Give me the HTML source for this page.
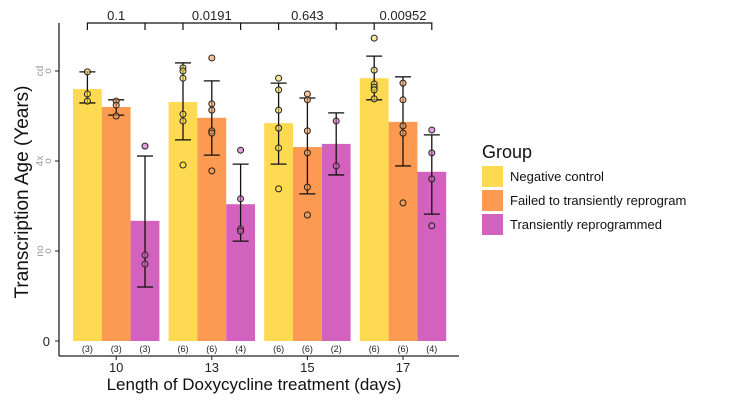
<!DOCTYPE html>
<html><head><meta charset="utf-8"><style>
body{margin:0;background:#fff;}
svg text{font-family:"Liberation Sans",Arial,sans-serif;}
</style></head><body>
<svg id="chart" width="750" height="400" viewBox="0 0 750 400">
<rect width="750" height="400" fill="#fff"/>
<g id="plot"></g>
<line x1="59" y1="23" x2="59" y2="356" stroke="#222" stroke-width="1.3"/>
<line x1="59" y1="356" x2="459" y2="356" stroke="#222" stroke-width="1.3"/>
<text x="0" y="0" transform="translate(28,192) rotate(-90)" text-anchor="middle" font-size="19" fill="#111">Transcription Age (Years)</text>
<text x="254" y="390" text-anchor="middle" font-size="17" fill="#111">Length of Doxycycline treatment (days)</text>
<g>
<text x="482" y="158" font-size="18" fill="#111">Group</text>
<rect x="482" y="166" width="21" height="21" fill="#FDDA51"/>
<text x="510" y="181" font-size="13" fill="#111">Negative control</text>
<rect x="482" y="190" width="21" height="21" fill="#FC9A52"/>
<text x="510" y="205" font-size="13" fill="#111">Failed to transiently reprogram</text>
<rect x="482" y="214" width="21" height="21" fill="#D262BD"/>
<text x="510" y="229" font-size="13" fill="#111">Transiently reprogrammed</text>
</g>
</svg>
<script>
const categories = ["10","13","15","17"];
const groups = ["Negative control","Failed to transiently reprogram","Transiently reprogrammed"];
const colors = ["#FDDA51","#FC9A52","#D262BD"];
const meanNeg = [56, 53.1, 48.4, 58.4];
const meanFail = [52, 49.6, 43.1, 48.7];
const meanTrans = [26.7, 30.4, 43.8, 37.6];
const errNegHi = [59.8, 61.8, 57.3, 63.3];
const errNegLo = [52.9, 44.7, 39.3, 53.6];
const errFailHi = [53.6, 57.8, 54.0, 58.7];
const errFailLo = [50.2, 41.3, 32.7, 38.9];
const errTransHi = [41.1, 39.3, 50.7, 45.8];
const errTransLo = [12.0, 22.2, 36.9, 28.2];
const ptsNeg = [[59.8,54.9,53.3],[60.7,60.0,58.4,50.4,48.9,39.1],[58.4,55.8,51.3,47.3,42.9,33.8],[67.3,60.2,57.1,56.4,55.8,53.8]];
const ptsFail = [[53.3,52.4,50.0],[62.9,52.7,51.3,46.7,46.2,37.8],[54.9,53.6,46.7,41.8,34.2,28.0],[57.3,53.6,47.8,46.2,30.7]];
const ptsTrans = [[43.3,19.1,17.1],[42.4,31.6,24.9,24.4],[48.9,38.9],[46.9,41.8,36.0,25.6]];
const counts = [[3,3,3],[6,6,4],[6,6,2],[6,6,4]];
const pvals = ["0.1","0.0191","0.643","0.00952"];
const yTickVals = [0,20,40,60];
const yTickLabels = ["0","no","4x","cd"];

const NS="http://www.w3.org/2000/svg";
const plot=document.getElementById('plot');
function y(v){return 341-v*4.5;}
function gx(i){return 73+i*95.6;}
const BW=28.8;
function mk(tag,attrs,parent){const e=document.createElementNS(NS,tag);for(const k in attrs)e.setAttribute(k,attrs[k]);(parent||plot).appendChild(e);return e;}
const means=[meanNeg,meanFail,meanTrans], his=[errNegHi,errFailHi,errTransHi], los=[errNegLo,errFailLo,errTransLo], pts=[ptsNeg,ptsFail,ptsTrans];
const names=["negative-control","failed","transient"];
yTickVals.forEach((v,i)=>{
  const t=mk('line',{x1:55,x2:59,y1:y(v),y2:y(v),stroke:'#222'});
  
  
  if(i===0){
    const lb=mk('text',{x:50,y:y(v)+5,'text-anchor':'end','font-size':13,fill:'#222'});
    lb.textContent=yTickLabels[i];
    
    
  } else {
    const o=mk('text',{x:0,y:0,transform:`translate(51,${y(v)}) rotate(-90)`,'text-anchor':'middle','font-size':10,fill:'#999'});
    o.textContent='o';
    
    
    const lb=mk('text',{x:0,y:0,transform:`translate(43,${y(v)}) rotate(-90)`,'text-anchor':'middle','font-size':10,fill:'#999'});
    lb.textContent=yTickLabels[i];
    
    
  }
});
categories.forEach((c,ci)=>{
  for(let g=0;g<3;g++){
    const x0=gx(ci)+g*BW, cx=x0+BW/2;
    const b=mk('rect',{x:x0,y:y(means[g][ci]),width:BW,height:y(0)-y(means[g][ci]),fill:colors[g]});
    
    
    const eb=mk('g',{stroke:'#111','stroke-width':1.3,fill:'none'});
    
    
    mk('line',{x1:cx,x2:cx,y1:y(his[g][ci]),y2:y(los[g][ci])},eb);
    mk('line',{x1:cx-8,x2:cx+8,y1:y(his[g][ci]),y2:y(his[g][ci])},eb);
    mk('line',{x1:cx-8,x2:cx+8,y1:y(los[g][ci]),y2:y(los[g][ci])},eb);
    pts[g][ci].forEach(v=>{
      const p=mk('circle',{cx:cx,cy:y(v),r:3,fill:colors[g],'fill-opacity':0.6,stroke:'#222','stroke-width':1});
      
      
    });
    const n=mk('text',{x:cx,y:352,'text-anchor':'middle','font-size':9,fill:'#222'});
    n.textContent='('+counts[ci][g]+')';
    
    
  }
  const mx=gx(ci)+1.5*BW;
  const t=mk('line',{x1:mx,x2:mx,y1:356,y2:360,stroke:'#222'});
  
  
  const l=mk('text',{x:mx,y:372,'text-anchor':'middle','font-size':13,fill:'#222'});
  l.textContent=c;
  
  
  const x1=gx(ci)+BW/2, x2=gx(ci)+2.5*BW;
  const br=mk('g',{stroke:'#111','stroke-width':1.2,fill:'none'});
  
  
  mk('path',{d:`M${x1},30 V23 H${x2} V30`},br);
  if(ci<3){mk('line',{x1:x2,x2:gx(ci+1)+BW/2,y1:23,y2:23},br);}
  const pt=mk('text',{x:(x1+x2)/2,y:20,'text-anchor':'middle','font-size':13,fill:'#222'});
  pt.textContent=pvals[ci];
  
  
});
</script>
</body></html>
